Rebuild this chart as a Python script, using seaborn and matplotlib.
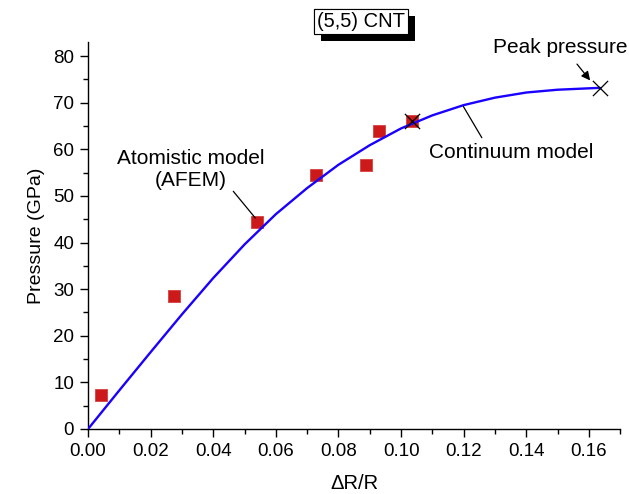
import matplotlib
matplotlib.use("Agg")
import matplotlib.pyplot as plt
import matplotlib.patheffects as pe
from matplotlib.ticker import MultipleLocator, FormatStrFormatter
import seaborn as sns
import pandas as pd

# Continuum model curve
curve_x = [0.0, 0.01, 0.02, 0.03, 0.04, 0.05, 0.06, 0.07, 0.08, 0.09,
           0.10, 0.11, 0.12, 0.13, 0.14, 0.15, 0.16, 0.1635]
curve_y = [0.0, 8.3, 16.5, 24.6, 32.4, 39.6, 46.1, 51.7, 56.7, 60.9,
           64.5, 67.3, 69.5, 71.1, 72.2, 72.8, 73.1, 73.2]

# Atomistic model (AFEM) points
afem_x = [0.0042, 0.0273, 0.0539, 0.0728, 0.0888, 0.0931, 0.1034]
afem_y = [7.2, 28.5, 44.5, 54.5, 56.7, 63.9, 66.0]

# Cross markers
cross_x = [0.1034, 0.1635]
cross_y = [66.0, 73.2]

sns.set_style("ticks")
plt.rcParams['font.family'] = ['Liberation Sans', 'DejaVu Sans']
plt.rcParams['text.color'] = 'black'
plt.rcParams['axes.labelcolor'] = 'black'
plt.rcParams['xtick.color'] = 'black'
plt.rcParams['ytick.color'] = 'black'

fig = plt.figure(figsize=(6.29, 4.94), dpi=100)
ax = fig.add_axes([0.140, 0.1316, 0.846, 0.783])

df_curve = pd.DataFrame({"x": curve_x, "y": curve_y})
df_afem = pd.DataFrame({"x": afem_x, "y": afem_y})
df_cross = pd.DataFrame({"x": cross_x, "y": cross_y})

sns.lineplot(data=df_curve, x="x", y="y", ax=ax, color="#1a00ff", lw=1.7,
             sort=True, zorder=3, solid_joinstyle='round')
sns.scatterplot(data=df_afem, x="x", y="y", ax=ax, marker="s", s=85,
                color="#cc1a1a", edgecolor="#d84040", linewidth=0.6, zorder=2)
sns.scatterplot(data=df_cross, x="x", y="y", ax=ax, marker="x", s=120,
                color="black", linewidth=0.9, zorder=4)

ax.set_xlim(0, 0.17)
ax.set_ylim(0, 83)
ax.xaxis.set_major_locator(MultipleLocator(0.02))
ax.xaxis.set_minor_locator(MultipleLocator(0.01))
ax.yaxis.set_major_locator(MultipleLocator(10))
ax.yaxis.set_minor_locator(MultipleLocator(5))
ax.xaxis.set_major_formatter(FormatStrFormatter('%.2f'))
ax.tick_params(which='major', direction='out', length=6, width=1, labelsize=13.5,
               colors='black', labelcolor='black', pad=4)
ax.tick_params(which='minor', direction='out', length=3.5, width=1, colors='black')
for s in ['left', 'bottom']:
    ax.spines[s].set_color('black')
    ax.spines[s].set_linewidth(1.0)
sns.despine(ax=ax)

ax.set_xlabel("ΔR/R", fontsize=14.5, labelpad=10, color='black')
ax.set_ylabel("Pressure (GPa)", fontsize=14, labelpad=6, color='black')

# Title box with shadow
t = fig.text(0.574, 0.957, "(5,5) CNT", ha='center', va='center', fontsize=14.5,
             color='black',
             bbox=dict(boxstyle='square,pad=0.15', fc='white', ec='black', lw=0.8))
t.get_bbox_patch().set_path_effects([
    pe.withSimplePatchShadow(offset=(5, -5), shadow_rgbFace='black', alpha=1.0),
    pe.Normal()])

# Annotations
ax.text(0.1508, 81.9, "Peak pressure", fontsize=15, ha='center', va='center',
        color='black')
ax.annotate("", xy=(0.1604, 74.8), xytext=(0.1562, 78.3),
            arrowprops=dict(arrowstyle='-|>', color='black', lw=0.9,
                            mutation_scale=13, shrinkA=0, shrinkB=0))
ax.text(0.1351, 59.4, "Continuum model", fontsize=15, ha='center', va='center',
        color='black')
ax.annotate("", xy=(0.1199, 69.2), xytext=(0.1258, 62.5),
            arrowprops=dict(arrowstyle='-', color='black', lw=0.9,
                            shrinkA=0, shrinkB=0))
ax.text(0.0329, 55.7, "Atomistic model\n(AFEM)", fontsize=15, ha='center',
        va='center', linespacing=1.15, color='black')
ax.annotate("", xy=(0.0534, 45.3), xytext=(0.0464, 51.0),
            arrowprops=dict(arrowstyle='-', color='black', lw=0.9,
                            shrinkA=0, shrinkB=0))

fig.savefig("out.png", dpi=100)
